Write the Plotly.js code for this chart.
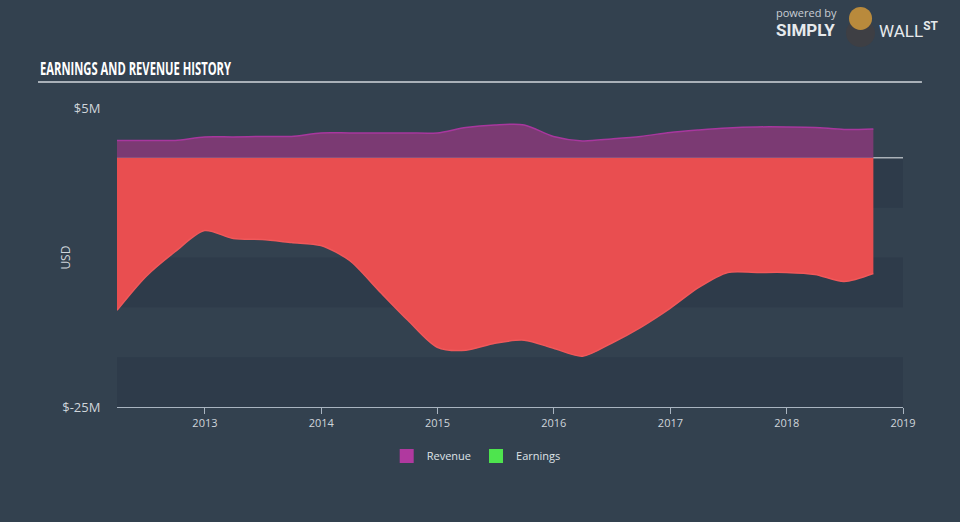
<!DOCTYPE html>
<html>
<head>
<meta charset="utf-8">
<script src="https://cdn.plot.ly/plotly-3.0.1.min.js"></script>
<style>
  html, body { margin: 0; padding: 0; background: #33414f; }
  #chart { width: 960px; height: 522px; }
</style>
</head>
<body>
<div id="chart"></div>
<script>
var fechas = [
  '2012-03-31', '2012-06-30', '2012-09-30', '2012-12-31',
  '2013-03-31', '2013-06-30', '2013-09-30', '2013-12-31',
  '2014-03-31', '2014-06-30', '2014-09-30', '2014-12-31',
  '2015-03-31', '2015-06-30', '2015-09-30', '2015-12-31',
  '2016-03-31', '2016-06-30', '2016-09-30', '2016-12-31',
  '2017-03-31', '2017-06-30', '2017-09-30', '2017-12-31',
  '2018-03-31', '2018-06-30', '2018-09-30'
];

// millones USD
var revenue = [1.74, 1.74, 1.75, 2.1, 2.1, 2.15, 2.15, 2.5, 2.5, 2.5, 2.5, 2.5,
  3.05, 3.3, 3.3, 2.15, 1.7, 1.9, 2.15, 2.55, 2.8, 3.0, 3.1, 3.1, 3.05, 2.85, 2.9];

var earnings = [-15.3, -11.9, -9.4, -7.3, -8.1, -8.2, -8.5, -8.8, -10.3, -13.3, -16.3, -19.0,
  -19.3, -18.6, -18.3, -19.1, -19.9, -18.6, -17.0, -15.1, -13.0, -11.5, -11.5, -11.5, -11.7, -12.4, -11.6];

var años = ['2013-01-01', '2014-01-01', '2015-01-01', '2016-01-01', '2017-01-01', '2018-01-01', '2019-01-01'];
var etiquetasAños = ['2013', '2014', '2015', '2016', '2017', '2018', '2019'];

var ticksY = [5, -25];
var etiquetasY = ['$5M', '$-25M'];

var bandas = [[0, -5], [-10, -15], [-20, -25]];

var trazas = [
  {
    x: fechas, y: earnings, type: 'scatter', mode: 'lines',
    fill: 'tozeroy', fillcolor: '#e94e50',
    line: { color: '#f0585a', width: 1.5, shape: 'spline', smoothing: 0.8 },
    showlegend: false, hoverinfo: 'skip'
  },
  {
    x: fechas, y: revenue, type: 'scatter', mode: 'lines',
    fill: 'tozeroy', fillcolor: '#7b3a73',
    line: { color: '#a8379e', width: 1.5, shape: 'spline', smoothing: 0.8 },
    showlegend: false, hoverinfo: 'skip'
  },
  {
    x: [null], y: [null], type: 'scatter', mode: 'markers', name: 'Revenue',
    marker: { symbol: 'square', size: 14, color: '#b0399f' }
  },
  {
    x: [null], y: [null], type: 'scatter', mode: 'markers', name: 'Earnings',
    marker: { symbol: 'square', size: 14, color: '#4ee44e' }
  }
];

var formas = bandas.map(function (b) {
  return {
    type: 'rect', layer: 'below', xref: 'paper', yref: 'y',
    x0: 0, x1: 1, y0: b[0], y1: b[1],
    fillcolor: '#2e3b4a', line: { width: 0 }
  };
});
formas.push({
  type: 'line', layer: 'below', xref: 'paper', yref: 'y',
  x0: 0, x1: 1, y0: 0, y1: 0,
  line: { color: '#e8ecef', width: 1 }
});
// raya bajo el título
formas.push({
  type: 'line', xref: 'paper', yref: 'paper',
  x0: -0.1005, x1: 1.0241, y0: 1.087, y1: 1.087,
  line: { color: '#a9b0b8', width: 2 }
});
// logo del toro (simplificado)
formas.push({
  type: 'circle', xref: 'paper', yref: 'paper',
  x0: 0.9275, x1: 0.9644, y0: 1.204, y1: 1.298,
  fillcolor: '#3e3f44', line: { width: 0 }
});
formas.push({
  type: 'circle', xref: 'paper', yref: 'paper',
  x0: 0.9313, x1: 0.9606, y0: 1.261, y1: 1.338,
  fillcolor: '#b98a3c', line: { width: 0 }
});

var layout = {
  width: 960, height: 522,
  margin: { l: 117, r: 57, t: 108, b: 115 },
  paper_bgcolor: '#33414f',
  plot_bgcolor: '#33414f',
  font: { family: '"Open Sans", sans-serif', size: 11, color: '#cfd5db' },
  showlegend: true,
  legend: {
    orientation: 'h', x: 0.457, xanchor: 'center', y: -0.115, yanchor: 'top',
    itemwidth: 30,
    font: { size: 11, color: '#dfe3e7' }, itemclick: false
  },
  xaxis: {
    type: 'date', range: ['2012-03-31', '2019-01-01'],
    tickvals: años, ticktext: etiquetasAños,
    showgrid: false, zeroline: false,
    showline: true, linecolor: '#a9b4c0', linewidth: 1,
    ticks: 'outside', ticklen: 6, tickcolor: '#a9b4c0',
    tickfont: { size: 11, color: '#cfd5db' }, fixedrange: true
  },
  yaxis: {
    range: [-25, 5], tickvals: ticksY, ticktext: etiquetasY,
    showgrid: false, zeroline: false, showline: false,
    ticks: 'outside', ticklen: 13, tickcolor: 'rgba(0,0,0,0)',
    tickfont: { size: 13, color: '#cfd5db' },
    fixedrange: true
  },
  shapes: formas,
  annotations: [
    {
      xref: 'paper', yref: 'paper', x: -0.1005, y: 1.135, xanchor: 'left', yanchor: 'middle',
      text: '<b>EARNINGS AND REVENUE HISTORY</b>', showarrow: false,
      font: { family: '"Open Sans", sans-serif', size: 18, color: '#ffffff' }
    },
    {
      xref: 'paper', yref: 'paper', x: -0.066, y: 0.5, xanchor: 'center', yanchor: 'middle',
      text: 'USD', showarrow: false, textangle: -90,
      font: { size: 12, color: '#cfd5db' }
    },
    {
      xref: 'paper', yref: 'paper', x: 0.8355, y: 1.318, xanchor: 'left', yanchor: 'middle',
      text: 'powered by', showarrow: false,
      font: { size: 11, color: '#c9ced4' }
    },
    {
      xref: 'paper', yref: 'paper', x: 0.8355, y: 1.26, xanchor: 'left', yanchor: 'middle',
      text: '<b>SIMPLY</b>', showarrow: false,
      font: { family: 'Roboto, sans-serif', size: 17, color: '#e6e9ec' }
    },
    {
      xref: 'paper', yref: 'paper', x: 0.9665, y: 1.26, xanchor: 'left', yanchor: 'middle',
      text: 'WALL<b><sup>ST</sup></b>', showarrow: false,
      font: { family: 'Roboto, sans-serif', size: 17, color: '#e6e9ec' }
    }
  ]
};

Plotly.newPlot('chart', trazas, layout, { displayModeBar: false, staticPlot: true }).then(function (gd) {
  // el título original usa una letra estrecha: se comprime al ancho de la referencia
  var textos = gd.querySelectorAll('.annotation-text');
  textos.forEach(function (t) {
    if (t.textContent === 'EARNINGS AND REVENUE HISTORY') {
      var antes = t.getBBox().x;
      t.setAttribute('textLength', '191');
      t.setAttribute('lengthAdjust', 'spacingAndGlyphs');
      var despues = t.getBBox().x;
      var x0 = parseFloat(t.getAttribute('x')) || 0;
      t.setAttribute('x', x0 - (despues - antes));
    }
  });
});
</script>
</body>
</html>
